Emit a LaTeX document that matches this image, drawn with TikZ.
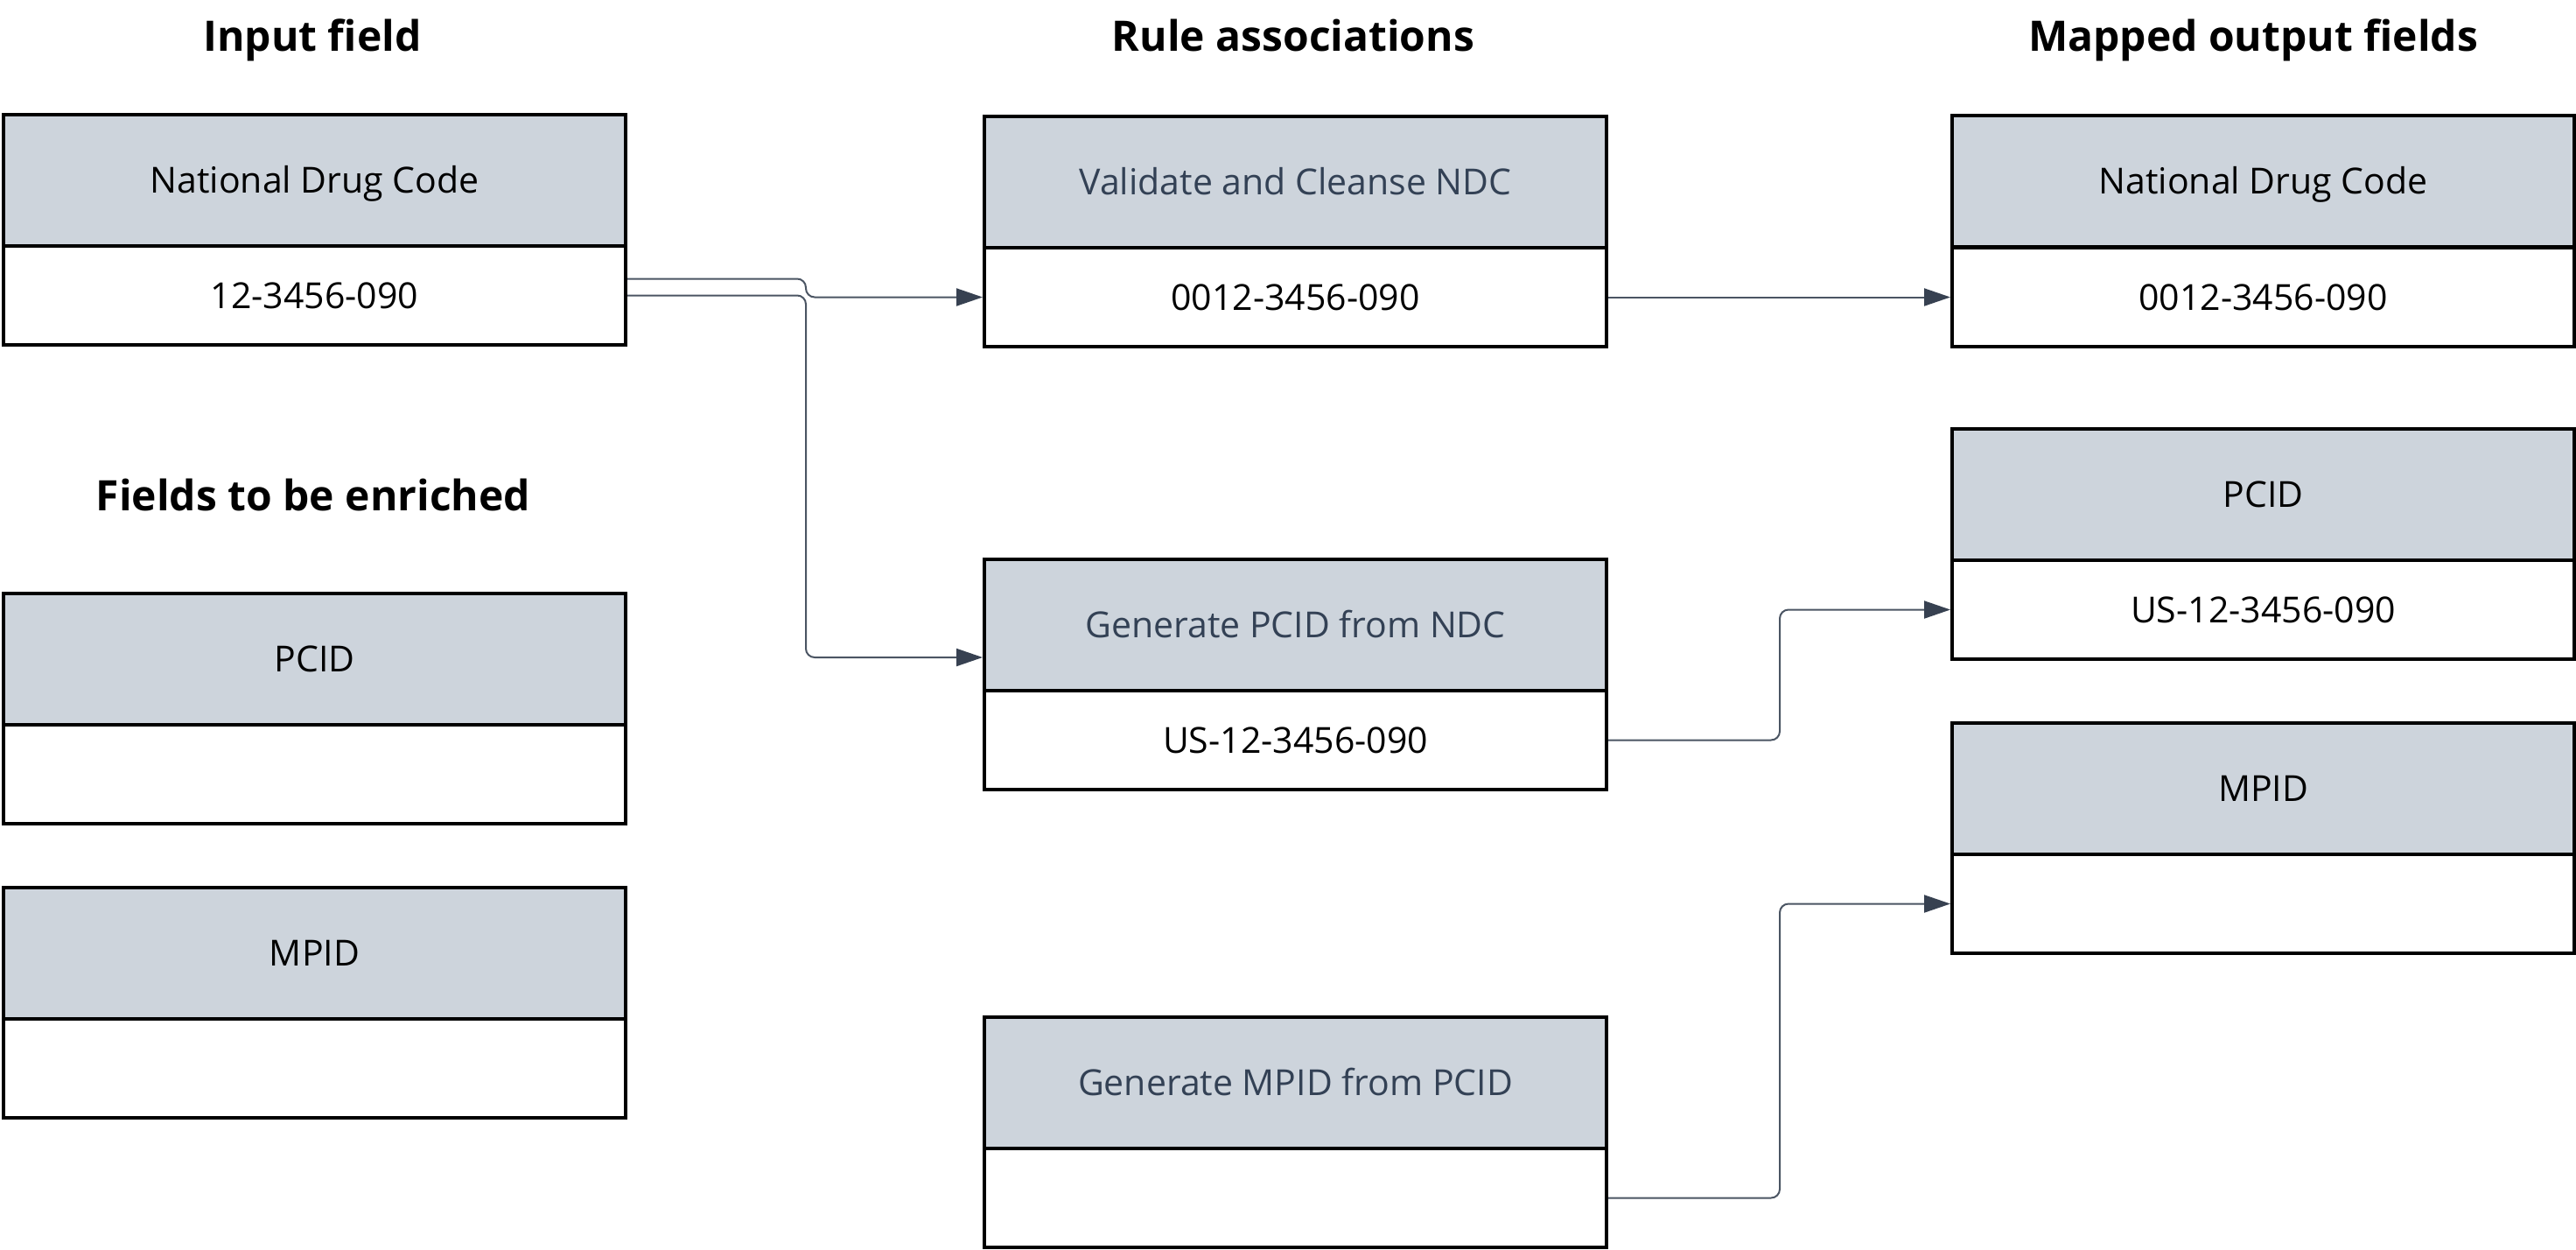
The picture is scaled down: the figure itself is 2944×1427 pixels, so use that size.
\documentclass[tikz,border=0pt]{standalone}
\usepackage{fontspec}
\setmainfont{Open Sans}
\usetikzlibrary{arrows.meta}
\definecolor{hdrfill}{HTML}{CDD4DC}
\definecolor{slatetext}{HTML}{334155}
\definecolor{linegray}{HTML}{4B5563}
\definecolor{tipgray}{HTML}{374151}
\tikzset{
  boxhdr/.style={draw=black, line width=4pt, fill=hdrfill, anchor=north west,
    minimum width=711pt, minimum height=150pt, inner sep=0pt,
    font=\fontsize{41}{48}\selectfont, text height=29pt, text depth=0pt},
  boxval/.style={draw=black, line width=4pt, fill=white, anchor=north west,
    minimum width=711pt, minimum height=113pt, inner sep=0pt,
    font=\fontsize{41}{48}\selectfont, text height=29pt, text depth=0pt},
  heading/.style={font=\fontsize{48}{56}\selectfont\bfseries, text height=34pt, text depth=0pt, inner sep=0pt},
  conn/.style={draw=linegray, line width=2pt, rounded corners=10pt,
    -{Triangle[length=30pt,width=20pt,fill=tipgray,color=tipgray]}},
}
\begin{document}
\begin{tikzpicture}[x=1pt,y=-1pt]
\useasboundingbox (0,0) rectangle (2944,1427);
% headings
\node[heading] (hIn) at (357,41) {Input field};
\node[heading] (hRule) at (1478,41) {Rule associations};
\node[heading] (hOut) at (2575,41) {Mapped output fields};
\node[heading] (hEnr) at (358,566) {Fields to be enriched};
% left column
\node[boxhdr] (inH) at (2,129) {National Drug Code};
\node[boxval] (inV) at (2,279) {12-3456-090};
\node[boxhdr] (enPH) at (2,676) {PCID};
\node[boxval] (enPV) at (2,826) {};
\node[boxhdr] (enMH) at (2,1012) {MPID};
\node[boxval] (enMV) at (2,1162) {};
% middle column
\node[boxhdr, text=slatetext] (vaH) at (1123,131) {Validate and Cleanse NDC};
\node[boxval] (vaV) at (1123,281) {0012-3456-090};
\node[boxhdr, text=slatetext] (gpH) at (1123,637) {Generate PCID from NDC};
\node[boxval] (gpV) at (1123,787) {US-12-3456-090};
\node[boxhdr, text=slatetext] (gmH) at (1123,1160) {Generate MPID from PCID};
\node[boxval] (gmV) at (1123,1310) {};
% right column
\node[boxhdr] (outNH) at (2229,130) {National Drug Code};
\node[boxval] (outNV) at (2229,281) {0012-3456-090};
\node[boxhdr] (outPH) at (2229,488) {PCID};
\node[boxval] (outPV) at (2229,638) {US-12-3456-090};
\node[boxhdr] (outMH) at (2229,824) {MPID};
\node[boxval] (outMV) at (2229,974) {};
% connectors
\draw[conn] ([yshift=19pt]inV.east) -- ++(204,0) |- (vaV.west);
\draw[conn] (inV.east) -- ++(204,0) |- ([yshift=-37pt]gpH.west);
\draw[conn] (vaV.east) -- (outNV.west);
\draw[conn] (gpV.east) -- ++(196,0) |- (outPV.west);
\draw[conn] (gmV.east) -- ++(196,0) |- (outMV.west);
\end{tikzpicture}
\end{document}
